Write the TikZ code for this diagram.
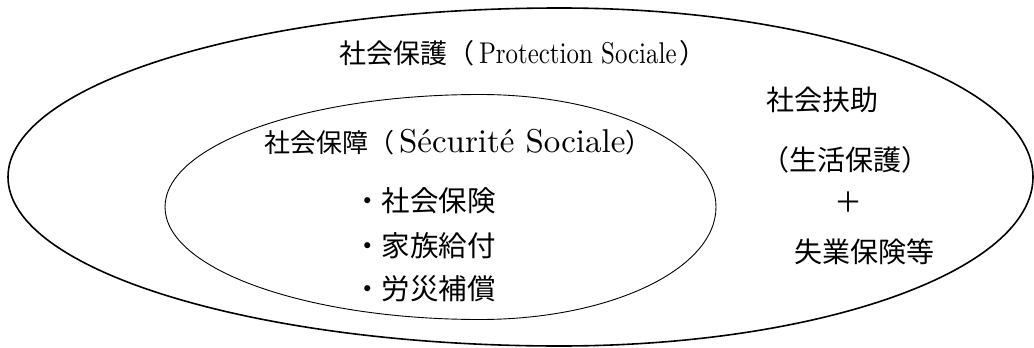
\documentclass[tikz,border=0pt]{standalone}
\usepackage{graphicx}
\usepackage{fontspec}
\newfontfamily\cjk{Noto Sans CJK JP}
\newfontfamily\lat{lmroman10-regular}[Extension=.otf]
\begin{document}
\begin{tikzpicture}[x=1pt,y=-1pt,
  outerline/.style={draw=black,line width=1.6pt},
  innerline/.style={draw=black,line width=0.9pt},
  lbl/.style={inner sep=0pt,outer sep=0pt,anchor=base west}]
\useasboundingbox (0,0) rectangle (1034,348);
% outer ellipse: Protection Sociale
\draw[outerline] (8,177) arc[start angle=180,end angle=90,x radius=552,y radius=169]
  arc[start angle=90,end angle=-90,x radius=473,y radius=169]
  arc[start angle=270,end angle=180,x radius=552,y radius=169] -- cycle;
% inner ellipse: Securite Sociale
\draw[innerline] (165,207) arc[start angle=180,end angle=90,x radius=315,y radius=112.5]
  arc[start angle=90,end angle=-90,x radius=236,y radius=112.5]
  arc[start angle=270,end angle=180,x radius=315,y radius=112.5] -- cycle;
% texts
\node[lbl] (prot) at (339,63) {\fontsize{27}{30}\selectfont\cjk 社会保護（\hspace{5pt}\lat\scalebox{0.83}[1]{\fontsize{30}{32}\selectfont Protection Sociale}\hspace{3pt}\cjk ）};
\node[lbl] (secu) at (264,152.5) {\fontsize{26}{30}\selectfont\cjk 社会保障（\hspace{5pt}\lat{\fontsize{33}{36}\selectfont Sécurité Sociale}\cjk ）};
\node[lbl] (b1) at (353,211.5) {\fontsize{28.5}{30}\selectfont\cjk ・社会保険};
\node[lbl] (b2) at (353,256.5) {\fontsize{28.5}{30}\selectfont\cjk ・家族給付};
\node[lbl] (b3) at (353,299.5) {\fontsize{28.5}{30}\selectfont\cjk ・労災補償};
\node[lbl] (fuj) at (766,110.5) {\fontsize{28}{30}\selectfont\cjk 社会扶助};
\node[lbl] (sei) at (761,170.5) {\fontsize{28}{30}\selectfont\cjk （生活保護）};
\node[inner sep=0pt] (plus) at (848,202) {\fontsize{28}{30}\selectfont\cjk ＋};
\node[lbl] (shi) at (794,262.5) {\fontsize{28}{30}\selectfont\cjk 失業保険等};
\end{tikzpicture}
\end{document}
